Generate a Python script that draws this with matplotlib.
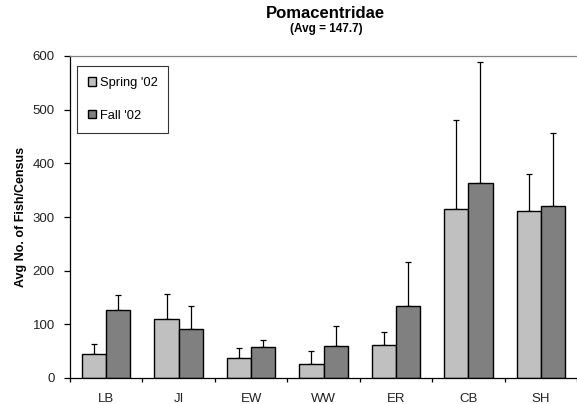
import matplotlib
matplotlib.use("Agg")
import matplotlib.pyplot as plt
import numpy as np

categories = ["LB", "JI", "EW", "WW", "ER", "CB", "SH"]
spring = [44, 110, 37, 27, 61, 314, 311]
spring_err = [19, 47, 19, 24, 25, 166, 70]
fall = [127, 91, 58, 60, 134, 363, 321]
fall_err = [28, 43, 13, 36, 83, 226, 135]
yticks = [0, 100, 200, 300, 400, 500, 600]

plt.rcParams['font.family'] = ['Liberation Sans', 'DejaVu Sans']

fig = plt.figure(figsize=(5.77, 4.04), dpi=100)
ax = fig.add_axes([70/577, 1-378/404, 507/577, 322/404])

x = np.arange(len(categories))
w = 0.335
ax.bar(x - w/2, spring, w, color='#C0C0C0', edgecolor='black', linewidth=1.0, label="Spring '02", zorder=2)
ax.bar(x + w/2, fall, w, color='#808080', edgecolor='black', linewidth=1.0, label="Fall '02", zorder=2)
ax.errorbar(x - w/2, spring, yerr=[np.zeros(len(spring)), spring_err], fmt='none', ecolor='black',
            elinewidth=0.9, capsize=2.5, capthick=0.9, zorder=1)
ax.errorbar(x + w/2, fall, yerr=[np.zeros(len(fall)), fall_err], fmt='none', ecolor='black',
            elinewidth=0.9, capsize=2.5, capthick=0.9, zorder=1)

ax.set_xlim(-0.5, len(categories) - 0.5)
ax.set_ylim(0, 600)
ax.set_yticks(yticks)
ax.set_yticklabels([str(v) for v in yticks], fontsize=9.5, color='#222222')
ax.set_xticks(x)
ax.set_xticklabels(categories, fontsize=9.5, color='#222222')
ax.tick_params(axis='x', length=0, pad=11)
ax.set_xticks(np.arange(-0.5, len(categories), 1.0), minor=True)
ax.tick_params(axis='x', which='minor', length=3, direction='out', width=0.9)
ax.tick_params(axis='y', length=4, direction='out', width=0.9, pad=7)

ax.spines['right'].set_visible(False)
ax.spines['top'].set_color('#808080')
ax.spines['top'].set_linewidth(0.9)
ax.spines['left'].set_linewidth(0.9)
ax.spines['bottom'].set_linewidth(0.9)

ax.set_ylabel("Avg No. of Fish/Census", fontsize=9, fontweight='bold', labelpad=4)

fig.text(325/577, 1 - 14/404, "Pomacentridae", ha='center', va='center', fontsize=12, fontweight='bold')
fig.text(326/577, 1 - 29/404, "(Avg = 147.7)", ha='center', va='center', fontsize=8.5, fontweight='bold')

leg = ax.legend(loc='upper left', bbox_to_anchor=(7/507, 1 - 10/322), fontsize=9.3, frameon=True,
                fancybox=False, edgecolor='black', handlelength=0.6, handleheight=0.6,
                handletextpad=0.3, labelspacing=1.6, borderpad=0.85, borderaxespad=0)
leg.get_frame().set_linewidth(0.8)

fig.savefig("out.png", dpi=100)
